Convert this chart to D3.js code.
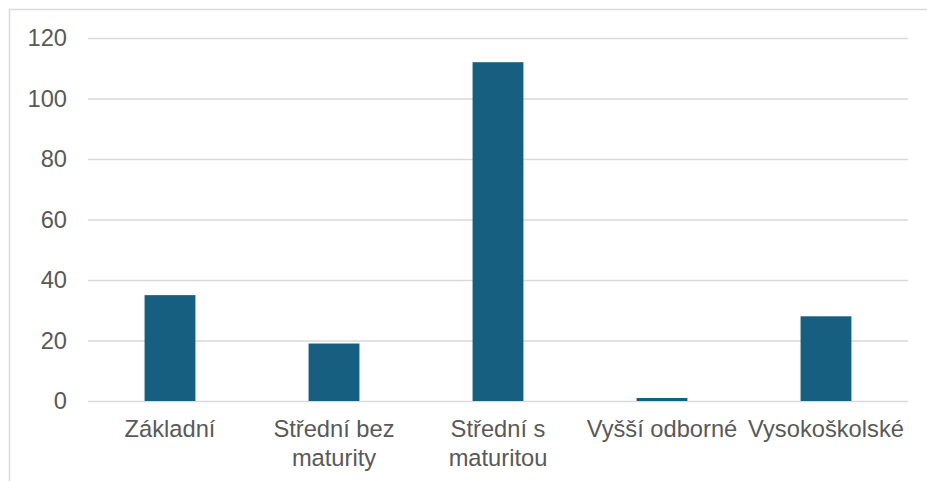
<!DOCTYPE html>
<html>
<head>
<meta charset="utf-8">
<script src="https://cdn.jsdelivr.net/npm/d3@7"></script>
<style>
  html, body { margin: 0; padding: 0; background: #fff; }
  svg { display: block; }
</style>
</head>
<body>
<svg id="chart" width="927" height="481"></svg>
<script>
const categories = [["Základní"], ["Střední bez", "maturity"], ["Střední s", "maturitou"], ["Vyšší odborné"], ["Vysokoškolské"]];
const values = [35, 19, 112, 1, 28];
const yTicks = [0, 20, 40, 60, 80, 100, 120];

const W = 927, H = 481;
const margin = { left: 88, right: 19, top: 38, bottom: 80 };
const svg = d3.select("#chart");
const font = "'Liberation Sans', Arial, sans-serif";
const fontSize = "23.7px";
const textColor = "#595959";

// outer frame
svg.append("rect")
  .attr("x", 9.5).attr("y", 9.5)
  .attr("width", W + 20).attr("height", H + 20)
  .attr("fill", "none").attr("stroke", "#d9d9d9").attr("stroke-width", 1.5);

const x = d3.scaleBand()
  .domain(categories.map((d, i) => i))
  .range([margin.left, W - margin.right])
  .paddingInner(0.69).paddingOuter(0.345);

const y = d3.scaleLinear().domain([0, 120]).range([401, 38]);

// gridlines
const yAxis = d3.axisLeft(y).tickValues(yTicks).tickSize(-(W - margin.right - margin.left)).tickPadding(21);
const gy = svg.append("g").attr("transform", `translate(${margin.left},0)`).call(yAxis);
gy.select(".domain").remove();
gy.selectAll(".tick line").attr("stroke", "#d9d9d9").attr("stroke-width", 1.5);
gy.selectAll(".tick text")
  .attr("fill", textColor).attr("font-family", font).attr("font-size", fontSize);

// bars
svg.append("g").selectAll("rect")
  .data(values)
  .join("rect")
  .attr("x", (d, i) => x(i))
  .attr("y", d => y(d))
  .attr("width", x.bandwidth())
  .attr("height", d => y(0) - y(d))
  .attr("fill", "#175f81");

// category labels
const xAxis = d3.axisBottom(x).tickSize(0).tickFormat("");
const gx = svg.append("g").attr("transform", `translate(0,${y(0)})`).call(xAxis);
gx.select(".domain").remove();
gx.selectAll(".tick").each(function(d) {
  const t = d3.select(this).append("text")
    .attr("fill", textColor).attr("font-family", font).attr("font-size", fontSize)
    .attr("text-anchor", "middle");
  categories[d].forEach((line, j) => {
    t.append("tspan").attr("x", 0).attr("y", 36 + j * 29).text(line);
  });
});
</script>
</body>
</html>
